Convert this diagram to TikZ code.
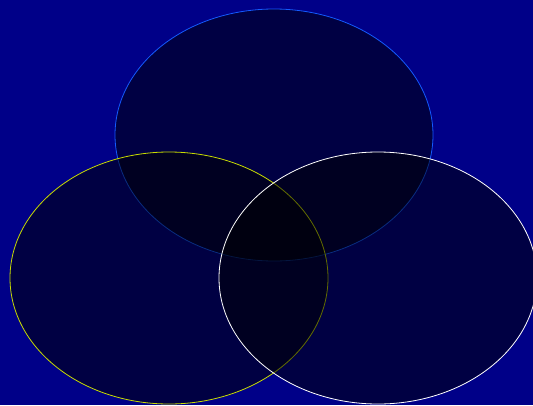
\documentclass[tikz,border=0pt]{standalone}
\usetikzlibrary{shapes.geometric}
\definecolor{navybg}{RGB}{0,0,136}
\definecolor{topblue}{RGB}{20,90,255}
\definecolor{leftyellow}{RGB}{200,220,0}
\begin{document}
\begin{tikzpicture}[
    x=1pt, y=-1pt,
    venn/.style={ellipse, minimum width=318pt, minimum height=252pt, inner sep=0pt,
      fill=black, fill opacity=0.5, line width=0.8pt}
  ]
    \fill[navybg] (0,0) rectangle (533,405);
    \clip (0,0) rectangle (533,405);
    \node[venn, draw=topblue] (top) at (274,135) {};
    \node[venn, draw=leftyellow] (left) at (169,278) {};
    \node[venn, draw=white] (right) at (378,278) {};
  \end{tikzpicture}
\end{document}
